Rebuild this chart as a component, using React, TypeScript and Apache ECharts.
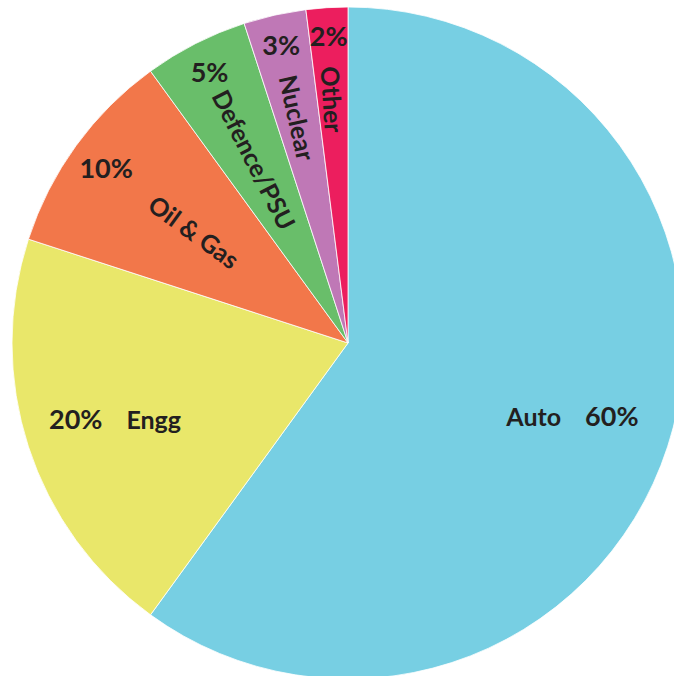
import React, { useEffect, useRef } from "react";
import * as echarts from "echarts";

// ---- data ----
const categories = ["Auto", "Engg", "Oil & Gas", "Defence/PSU", "Nuclear", "Other"];
const shares = [60, 20, 10, 5, 3, 2];
const colors = ["#77cfe3", "#e9e76a", "#f2774a", "#69be6a", "#bf78b6", "#ec1e5e"];

// ---- layout ----
// "inline": name and share on one horizontal line (order: name first or share first)
const inlineMode: ("nameFirst" | "pctFirst" | null)[] = ["nameFirst", "pctFirst", null, null, null, null];
const inlineRadius = [233, 242, 0, 0, 0, 0];
const nameRadius = [0, 0, 187, 203, 228, 241];
const pctRadius = [0, 0, 296, 302, 303, 305];

const CENTER: [number, number] = [348, 343];
const R = 336;
const FONT = "Lato, 'Open Sans', sans-serif";
const TEXT = "#231f20";
const NAME_SIZE = 25;
const PCT_SIZE = 27;

export default function App() {
  const ref = useRef<HTMLDivElement>(null);
  useEffect(() => {
    if (!ref.current) return;
    const chart = echarts.init(ref.current, null, { renderer: "svg" });
    const baseData = categories.map((c, i) => ({ name: c, value: shares[i] }));

    const labelSeries = (idx: number, r: number, labelOpt: any) => ({
      type: "pie",
      center: CENTER,
      radius: [r - 1, r + 1],
      startAngle: 90,
      clockwise: true,
      silent: true,
      itemStyle: { color: "rgba(0,0,0,0)", borderWidth: 0 },
      labelLine: { show: false },
      emphasis: { disabled: true },
      data: baseData.map((d, i) => ({
        ...d,
        label: {
          show: i === idx,
          position: "inside",
          fontFamily: FONT,
          fontWeight: "bold",
          color: TEXT,
          ...labelOpt,
        },
      })),
    });

    const rich = {
      n: { fontFamily: FONT, fontWeight: "bold", fontSize: NAME_SIZE, color: TEXT },
      p: { fontFamily: FONT, fontWeight: "bold", fontSize: PCT_SIZE, color: TEXT },
      g: { width: 24 },
    };

    const series: any[] = [
      {
        type: "pie",
        center: CENTER,
        radius: [0, R],
        startAngle: 90,
        clockwise: true,
        silent: true,
        label: { show: false },
        labelLine: { show: false },
        itemStyle: { borderColor: "#ffffff", borderWidth: 0.8 },
        data: baseData.map((d, i) => ({ ...d, itemStyle: { color: colors[i] } })),
      },
    ];
    categories.forEach((_, i) => {
      const mode = inlineMode[i];
      if (mode) {
        series.push(
          labelSeries(i, inlineRadius[i], {
            rotate: 0,
            formatter: mode === "nameFirst" ? "{n|{b}}{g|}{p|{c}%}" : "{p|{c}%}{g|}{n|{b}}",
            rich,
          })
        );
      } else {
        series.push(
          labelSeries(i, nameRadius[i], { rotate: "radial", formatter: "{b}", fontSize: NAME_SIZE })
        );
        series.push(labelSeries(i, pctRadius[i], { rotate: 0, formatter: "{c}%", fontSize: PCT_SIZE }));
      }
    });

    chart.setOption({ animation: false, series });
    return () => chart.dispose();
  }, []);
  return (
    <div
      ref={ref}
      style={{ position: "absolute", left: 0, top: 0, width: 674, height: 676, background: "#fff" }}
    />
  );
}
